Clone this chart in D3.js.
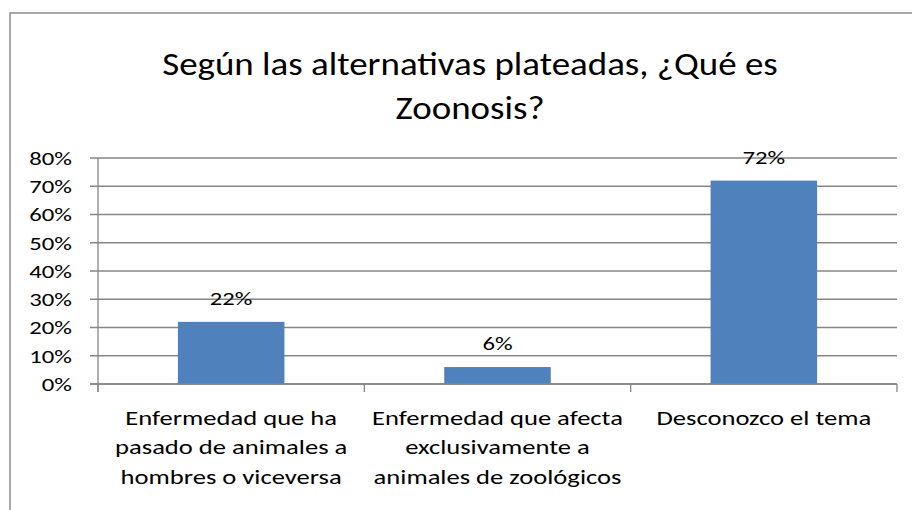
<!DOCTYPE html>
<html>
<head>
    <meta charset="utf-8">
    <script src="https://cdn.jsdelivr.net/npm/d3@7"></script>
    <style>
        body { margin: 0; background: #fff; }
        svg text { font-family: Carlito, Calibri, Lato, sans-serif; fill: #000; }
    </style>
</head>
<body>
<script>
    // data
    const categories = [
        ["Enfermedad que ha", "pasado de animales a", "hombres o viceversa"],
        ["Enfermedad que afecta", "exclusivamente a", "animales de zoológicos"],
        ["Desconozco el tema"]
    ];
    const values = [0.22, 0.06, 0.72];
    const yTicks = [0, 0.1, 0.2, 0.3, 0.4, 0.5, 0.6, 0.7, 0.8];
    const titleLines = ["Según las alternativas plateadas, ¿Qué es", "Zoonosis?"];

    const width = 912, height = 510;
    const plot = { left: 98, right: 897, top: 158, bottom: 384 };
    // the source picture is stretched sideways, so text gets a wider x scale
    const sx = 1.3, sxCat = 1.33, sxTitle = 1.12;

    const svg = d3.select("body").append("svg")
        .attr("width", width)
        .attr("height", height);

    // outer frame (only top + left show)
    svg.append("rect")
        .attr("x", 10).attr("y", 13)
        .attr("width", 940).attr("height", 540)
        .attr("fill", "none")
        .attr("stroke", "#8c8c8c")
        .attr("stroke-width", 1.5);

    // title
    svg.append("g").selectAll("text")
        .data(titleLines)
        .enter().append("text")
        .attr("transform", (d, i) => `translate(470,${75 + i * 44}) scale(${sxTitle},1)`)
        .attr("text-anchor", "middle")
        .style("font-size", "33px")
        .text(d => d);

    const idx = values.map((d, i) => i);
    const x = d3.scaleBand()
        .domain(idx)
        .range([plot.left, plot.right])
        .paddingInner(0.6)
        .paddingOuter(0.3);
    const step = (plot.right - plot.left) / values.length;

    const y = d3.scaleLinear()
        .domain([0, 0.8])
        .range([plot.bottom, plot.top]);

    // gridlines + y ticks
    svg.append("g").selectAll("line")
        .data(yTicks)
        .enter().append("line")
        .attr("x1", plot.left - 8)
        .attr("x2", plot.right)
        .attr("y1", d => y(d))
        .attr("y2", d => y(d))
        .attr("stroke", "#868686")
        .attr("stroke-width", 1.3);

    svg.append("g").selectAll("text")
        .data(yTicks)
        .enter().append("text")
        .attr("transform", d => `translate(72,${y(d)}) scale(${sx},1)`)
        .attr("dy", "0.36em")
        .attr("text-anchor", "end")
        .style("font-size", "19px")
        .text(d => d3.format(".0%")(d));

    // y axis line
    svg.append("line")
        .attr("x1", plot.left).attr("x2", plot.left)
        .attr("y1", plot.top).attr("y2", plot.bottom + 8)
        .attr("stroke", "#868686")
        .attr("stroke-width", 1.3);

    // bars
    svg.append("g").selectAll("rect")
        .data(values)
        .enter().append("rect")
        .attr("x", (d, i) => x(i))
        .attr("y", d => y(d))
        .attr("width", x.bandwidth())
        .attr("height", d => plot.bottom - y(d))
        .attr("fill", "#4f81bd");

    // value labels
    svg.append("g").selectAll("text")
        .data(values)
        .enter().append("text")
        .attr("transform", (d, i) => `translate(${x(i) + x.bandwidth() / 2},${y(d) - 17}) scale(${sx},1)`)
        .attr("text-anchor", "middle")
        .style("font-size", "19px")
        .text(d => d3.format(".0%")(d));

    // x axis line + category ticks
    svg.append("line")
        .attr("x1", plot.left - 8).attr("x2", plot.right)
        .attr("y1", plot.bottom).attr("y2", plot.bottom)
        .attr("stroke", "#868686")
        .attr("stroke-width", 1.3);

    svg.append("g").selectAll("line")
        .data(d3.range(values.length + 1))
        .enter().append("line")
        .attr("x1", d => plot.left + d * step)
        .attr("x2", d => plot.left + d * step)
        .attr("y1", plot.bottom)
        .attr("y2", plot.bottom + 8)
        .attr("stroke", "#868686")
        .attr("stroke-width", 1.3);

    // category labels
    const cat = svg.append("g").selectAll("text")
        .data(categories)
        .enter().append("text")
        .attr("transform", (d, i) => `translate(${x(i) + x.bandwidth() / 2},0) scale(${sxCat},1)`)
        .attr("text-anchor", "middle")
        .style("font-size", "20px");

    cat.each(function (lines) {
        d3.select(this).selectAll("tspan")
            .data(lines)
            .enter().append("tspan")
            .attr("x", 0)
            .attr("y", (d, j) => 425 + j * 29.5)
            .text(d => d);
    });
</script>
</body>
</html>
